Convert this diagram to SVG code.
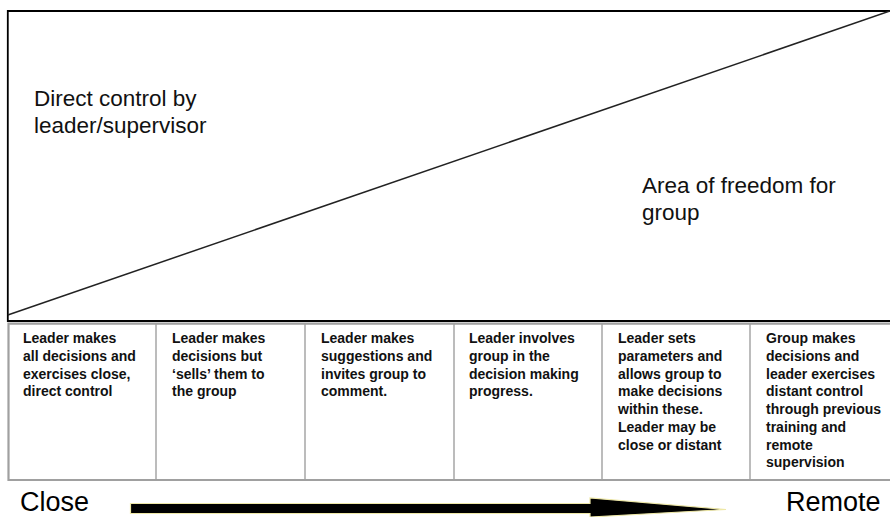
<svg xmlns="http://www.w3.org/2000/svg" width="890" height="517" viewBox="0 0 890 517">
<style>
.big{font-family:"Liberation Sans",Arial,sans-serif;font-size:22.5px;fill:#111;}
.cell{font-family:"Liberation Sans",Arial,sans-serif;font-size:14px;font-weight:bold;fill:#111;}
.end{font-family:"Liberation Sans",Arial,sans-serif;font-size:27px;fill:#000;}
.grid{stroke:#a0a0a0;fill:none;}
</style>
<rect width="890" height="517" fill="#fff"/>
<g id="control-area">
<polyline points="890,11 7.8,11 7.8,321 890,321" fill="none" stroke="#000" stroke-width="1.8"/>
<line x1="7.8" y1="315" x2="890" y2="11" stroke="#222" stroke-width="1.5"/>
<text class="big" x="34" y="106">Direct control by</text>
<text class="big" x="34" y="133">leader/supervisor</text>
<text class="big" x="642" y="193">Area of freedom for</text>
<text class="big" x="642" y="220">group</text>
</g>
<g id="table-grid">
<polyline class="grid" points="890,323.6 8.5,323.6 8.5,480 890,480" stroke-width="2.2"/>
<line class="grid" x1="156" y1="324" x2="156" y2="480" stroke-width="1.4"/>
<line class="grid" x1="305" y1="324" x2="305" y2="480" stroke-width="1.4"/>
<line class="grid" x1="454" y1="324" x2="454" y2="480" stroke-width="1.4"/>
<line class="grid" x1="602" y1="324" x2="602" y2="480" stroke-width="1.4"/>
<line class="grid" x1="750" y1="324" x2="750" y2="480" stroke-width="1.4"/>
</g>
<g id="cell1">
<text class="cell" x="23" y="343.3">
<tspan x="23">Leader makes</tspan>
<tspan x="23" dy="17.7">all decisions and</tspan>
<tspan x="23" dy="17.7">exercises close,</tspan>
<tspan x="23" dy="17.7">direct control</tspan>
</text>
</g>
<g id="cell2">
<text class="cell" x="172" y="343.3">
<tspan x="172">Leader makes</tspan>
<tspan x="172" dy="17.7">decisions but</tspan>
<tspan x="172" dy="17.7">‘sells’ them to</tspan>
<tspan x="172" dy="17.7">the group</tspan>
</text>
</g>
<g id="cell3">
<text class="cell" x="321" y="343.3">
<tspan x="321">Leader makes</tspan>
<tspan x="321" dy="17.7">suggestions and</tspan>
<tspan x="321" dy="17.7">invites group to</tspan>
<tspan x="321" dy="17.7">comment.</tspan>
</text>
</g>
<g id="cell4">
<text class="cell" x="469" y="343.3">
<tspan x="469">Leader involves</tspan>
<tspan x="469" dy="17.7">group in the</tspan>
<tspan x="469" dy="17.7">decision making</tspan>
<tspan x="469" dy="17.7">progress.</tspan>
</text>
</g>
<g id="cell5">
<text class="cell" x="618" y="343.3">
<tspan x="618">Leader sets</tspan>
<tspan x="618" dy="17.7">parameters and</tspan>
<tspan x="618" dy="17.7">allows group to</tspan>
<tspan x="618" dy="17.7">make decisions</tspan>
<tspan x="618" dy="17.7">within these.</tspan>
<tspan x="618" dy="17.7">Leader may be</tspan>
<tspan x="618" dy="17.7">close or distant</tspan>
</text>
</g>
<g id="cell6">
<text class="cell" x="766" y="343.3">
<tspan x="766">Group makes</tspan>
<tspan x="766" dy="17.7">decisions and</tspan>
<tspan x="766" dy="17.7">leader exercises</tspan>
<tspan x="766" dy="17.7">distant control</tspan>
<tspan x="766" dy="17.7">through previous</tspan>
<tspan x="766" dy="17.7">training and</tspan>
<tspan x="766" dy="17.7">remote</tspan>
<tspan x="766" dy="17.7">supervision</tspan>
</text>
</g>
<g id="close">
<text class="end" x="20" y="511">Close</text>
</g>
<g id="remote">
<text class="end" x="786" y="511">Remote</text>
</g>
<g id="connectors">
<polygon points="130.5,503.5 590,503.5 590,498 726,509.5 590,517 590,513.5 130.5,513.5" fill="#000" stroke="#eee8a8" stroke-width="1.2" stroke-linejoin="miter"/>
</g>
</svg>
